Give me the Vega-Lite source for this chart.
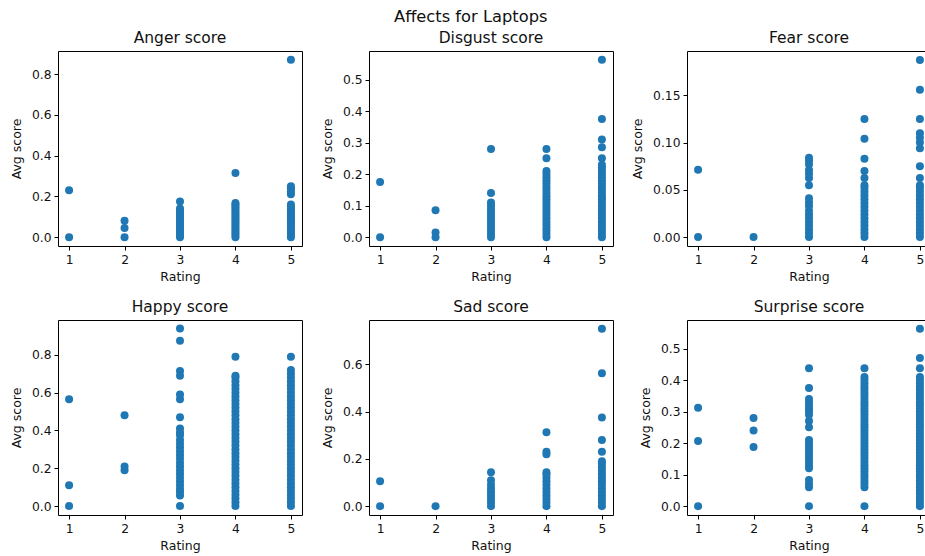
{
  "$schema": "https://vega.github.io/schema/vega-lite/v6.json",
  "padding": {"left": 9, "top": 8, "right": 0, "bottom": 0},
  "title": {"text": "Affects for Laptops", "anchor": "middle", "fontSize": 16.3, "offset": 5, "dx": 0},
  "datasets": {
    "anger": [
      {"rating":1,"score":0},{"rating":1,"score":0.23},
      {"rating":2,"score":0},{"rating":2,"score":0.045},{"rating":2,"score":0.08},
      {"rating":3,"score":0},{"rating":3,"score":0.01},{"rating":3,"score":0.02},{"rating":3,"score":0.03},{"rating":3,"score":0.04},{"rating":3,"score":0.05},{"rating":3,"score":0.06},{"rating":3,"score":0.07},{"rating":3,"score":0.08},{"rating":3,"score":0.09},{"rating":3,"score":0.1},{"rating":3,"score":0.11},{"rating":3,"score":0.12},{"rating":3,"score":0.13},{"rating":3,"score":0.14},{"rating":3,"score":0.175},
      {"rating":4,"score":0},{"rating":4,"score":0.01},{"rating":4,"score":0.02},{"rating":4,"score":0.03},{"rating":4,"score":0.04},{"rating":4,"score":0.05},{"rating":4,"score":0.06},{"rating":4,"score":0.07},{"rating":4,"score":0.08},{"rating":4,"score":0.09},{"rating":4,"score":0.1},{"rating":4,"score":0.11},{"rating":4,"score":0.12},{"rating":4,"score":0.13},{"rating":4,"score":0.14},{"rating":4,"score":0.15},{"rating":4,"score":0.16},{"rating":4,"score":0.167},{"rating":4,"score":0.315},
      {"rating":5,"score":0},{"rating":5,"score":0.01},{"rating":5,"score":0.02},{"rating":5,"score":0.03},{"rating":5,"score":0.04},{"rating":5,"score":0.05},{"rating":5,"score":0.06},{"rating":5,"score":0.07},{"rating":5,"score":0.08},{"rating":5,"score":0.09},{"rating":5,"score":0.1},{"rating":5,"score":0.11},{"rating":5,"score":0.12},{"rating":5,"score":0.13},{"rating":5,"score":0.14},{"rating":5,"score":0.15},{"rating":5,"score":0.16},{"rating":5,"score":0.21},{"rating":5,"score":0.225},{"rating":5,"score":0.24},{"rating":5,"score":0.25},{"rating":5,"score":0.87}
    ],
    "disgust": [
      {"rating":1,"score":0},{"rating":1,"score":0.175},
      {"rating":2,"score":0},{"rating":2,"score":0.015},{"rating":2,"score":0.085},
      {"rating":3,"score":0},{"rating":3,"score":0.01},{"rating":3,"score":0.02},{"rating":3,"score":0.03},{"rating":3,"score":0.04},{"rating":3,"score":0.05},{"rating":3,"score":0.06},{"rating":3,"score":0.07},{"rating":3,"score":0.08},{"rating":3,"score":0.09},{"rating":3,"score":0.1},{"rating":3,"score":0.11},{"rating":3,"score":0.14},{"rating":3,"score":0.28},
      {"rating":4,"score":0},{"rating":4,"score":0.01},{"rating":4,"score":0.02},{"rating":4,"score":0.03},{"rating":4,"score":0.04},{"rating":4,"score":0.05},{"rating":4,"score":0.06},{"rating":4,"score":0.07},{"rating":4,"score":0.08},{"rating":4,"score":0.09},{"rating":4,"score":0.1},{"rating":4,"score":0.11},{"rating":4,"score":0.12},{"rating":4,"score":0.13},{"rating":4,"score":0.14},{"rating":4,"score":0.15},{"rating":4,"score":0.16},{"rating":4,"score":0.17},{"rating":4,"score":0.18},{"rating":4,"score":0.19},{"rating":4,"score":0.2},{"rating":4,"score":0.21},{"rating":4,"score":0.25},{"rating":4,"score":0.28},
      {"rating":5,"score":0},{"rating":5,"score":0.01},{"rating":5,"score":0.02},{"rating":5,"score":0.03},{"rating":5,"score":0.04},{"rating":5,"score":0.05},{"rating":5,"score":0.06},{"rating":5,"score":0.07},{"rating":5,"score":0.08},{"rating":5,"score":0.09},{"rating":5,"score":0.1},{"rating":5,"score":0.11},{"rating":5,"score":0.12},{"rating":5,"score":0.13},{"rating":5,"score":0.14},{"rating":5,"score":0.15},{"rating":5,"score":0.16},{"rating":5,"score":0.17},{"rating":5,"score":0.18},{"rating":5,"score":0.19},{"rating":5,"score":0.2},{"rating":5,"score":0.21},{"rating":5,"score":0.22},{"rating":5,"score":0.23},{"rating":5,"score":0.25},{"rating":5,"score":0.285},{"rating":5,"score":0.31},{"rating":5,"score":0.375},{"rating":5,"score":0.5625}
    ],
    "fear": [
      {"rating":1,"score":0},{"rating":1,"score":0.0714},
      {"rating":2,"score":0},
      {"rating":3,"score":0},{"rating":3,"score":0.004},{"rating":3,"score":0.008},{"rating":3,"score":0.012},{"rating":3,"score":0.016},{"rating":3,"score":0.02},{"rating":3,"score":0.024},{"rating":3,"score":0.028},{"rating":3,"score":0.033},{"rating":3,"score":0.037},{"rating":3,"score":0.041},{"rating":3,"score":0.055},{"rating":3,"score":0.0625},{"rating":3,"score":0.067},{"rating":3,"score":0.071},{"rating":3,"score":0.077},{"rating":3,"score":0.081},{"rating":3,"score":0.084},
      {"rating":4,"score":0},{"rating":4,"score":0.004},{"rating":4,"score":0.008},{"rating":4,"score":0.012},{"rating":4,"score":0.016},{"rating":4,"score":0.02},{"rating":4,"score":0.024},{"rating":4,"score":0.028},{"rating":4,"score":0.032},{"rating":4,"score":0.036},{"rating":4,"score":0.04},{"rating":4,"score":0.044},{"rating":4,"score":0.048},{"rating":4,"score":0.052},{"rating":4,"score":0.055},{"rating":4,"score":0.0625},{"rating":4,"score":0.07},{"rating":4,"score":0.083},{"rating":4,"score":0.104},{"rating":4,"score":0.125},
      {"rating":5,"score":0},{"rating":5,"score":0.004},{"rating":5,"score":0.008},{"rating":5,"score":0.012},{"rating":5,"score":0.016},{"rating":5,"score":0.02},{"rating":5,"score":0.024},{"rating":5,"score":0.028},{"rating":5,"score":0.032},{"rating":5,"score":0.036},{"rating":5,"score":0.04},{"rating":5,"score":0.044},{"rating":5,"score":0.048},{"rating":5,"score":0.052},{"rating":5,"score":0.055},{"rating":5,"score":0.0625},{"rating":5,"score":0.075},{"rating":5,"score":0.094},{"rating":5,"score":0.1},{"rating":5,"score":0.105},{"rating":5,"score":0.11},{"rating":5,"score":0.125},{"rating":5,"score":0.156},{"rating":5,"score":0.1875}
    ],
    "happy": [
      {"rating":1,"score":0},{"rating":1,"score":0.11},{"rating":1,"score":0.565},
      {"rating":2,"score":0.19},{"rating":2,"score":0.21},{"rating":2,"score":0.48},
      {"rating":3,"score":0},{"rating":3,"score":0.056},{"rating":3,"score":0.075},{"rating":3,"score":0.09},{"rating":3,"score":0.11},{"rating":3,"score":0.13},{"rating":3,"score":0.15},{"rating":3,"score":0.17},{"rating":3,"score":0.19},{"rating":3,"score":0.21},{"rating":3,"score":0.23},{"rating":3,"score":0.25},{"rating":3,"score":0.27},{"rating":3,"score":0.29},{"rating":3,"score":0.31},{"rating":3,"score":0.33},{"rating":3,"score":0.35},{"rating":3,"score":0.375},{"rating":3,"score":0.39},{"rating":3,"score":0.41},{"rating":3,"score":0.47},{"rating":3,"score":0.565},{"rating":3,"score":0.59},{"rating":3,"score":0.69},{"rating":3,"score":0.715},{"rating":3,"score":0.875},{"rating":3,"score":0.94},
      {"rating":4,"score":0},{"rating":4,"score":0.02},{"rating":4,"score":0.04},{"rating":4,"score":0.06},{"rating":4,"score":0.08},{"rating":4,"score":0.1},{"rating":4,"score":0.12},{"rating":4,"score":0.14},{"rating":4,"score":0.16},{"rating":4,"score":0.18},{"rating":4,"score":0.2},{"rating":4,"score":0.22},{"rating":4,"score":0.24},{"rating":4,"score":0.26},{"rating":4,"score":0.28},{"rating":4,"score":0.3},{"rating":4,"score":0.32},{"rating":4,"score":0.34},{"rating":4,"score":0.36},{"rating":4,"score":0.38},{"rating":4,"score":0.4},{"rating":4,"score":0.42},{"rating":4,"score":0.44},{"rating":4,"score":0.46},{"rating":4,"score":0.48},{"rating":4,"score":0.5},{"rating":4,"score":0.52},{"rating":4,"score":0.54},{"rating":4,"score":0.56},{"rating":4,"score":0.58},{"rating":4,"score":0.6},{"rating":4,"score":0.62},{"rating":4,"score":0.64},{"rating":4,"score":0.66},{"rating":4,"score":0.68},{"rating":4,"score":0.69},{"rating":4,"score":0.79},
      {"rating":5,"score":0},{"rating":5,"score":0.02},{"rating":5,"score":0.04},{"rating":5,"score":0.06},{"rating":5,"score":0.08},{"rating":5,"score":0.1},{"rating":5,"score":0.12},{"rating":5,"score":0.14},{"rating":5,"score":0.16},{"rating":5,"score":0.18},{"rating":5,"score":0.2},{"rating":5,"score":0.22},{"rating":5,"score":0.24},{"rating":5,"score":0.26},{"rating":5,"score":0.28},{"rating":5,"score":0.3},{"rating":5,"score":0.32},{"rating":5,"score":0.34},{"rating":5,"score":0.36},{"rating":5,"score":0.38},{"rating":5,"score":0.4},{"rating":5,"score":0.42},{"rating":5,"score":0.44},{"rating":5,"score":0.46},{"rating":5,"score":0.48},{"rating":5,"score":0.5},{"rating":5,"score":0.52},{"rating":5,"score":0.54},{"rating":5,"score":0.56},{"rating":5,"score":0.58},{"rating":5,"score":0.6},{"rating":5,"score":0.62},{"rating":5,"score":0.64},{"rating":5,"score":0.66},{"rating":5,"score":0.68},{"rating":5,"score":0.7},{"rating":5,"score":0.72},{"rating":5,"score":0.79}
    ],
    "sad": [
      {"rating":1,"score":0},{"rating":1,"score":0.105},
      {"rating":2,"score":0},
      {"rating":3,"score":0},{"rating":3,"score":0.015},{"rating":3,"score":0.03},{"rating":3,"score":0.045},{"rating":3,"score":0.06},{"rating":3,"score":0.075},{"rating":3,"score":0.09},{"rating":3,"score":0.11},{"rating":3,"score":0.143},
      {"rating":4,"score":0},{"rating":4,"score":0.015},{"rating":4,"score":0.03},{"rating":4,"score":0.045},{"rating":4,"score":0.06},{"rating":4,"score":0.075},{"rating":4,"score":0.09},{"rating":4,"score":0.105},{"rating":4,"score":0.12},{"rating":4,"score":0.135},{"rating":4,"score":0.143},{"rating":4,"score":0.22},{"rating":4,"score":0.23},{"rating":4,"score":0.3125},
      {"rating":5,"score":0},{"rating":5,"score":0.015},{"rating":5,"score":0.03},{"rating":5,"score":0.045},{"rating":5,"score":0.06},{"rating":5,"score":0.075},{"rating":5,"score":0.09},{"rating":5,"score":0.105},{"rating":5,"score":0.12},{"rating":5,"score":0.135},{"rating":5,"score":0.15},{"rating":5,"score":0.165},{"rating":5,"score":0.18},{"rating":5,"score":0.19},{"rating":5,"score":0.23},{"rating":5,"score":0.28},{"rating":5,"score":0.375},{"rating":5,"score":0.5625},{"rating":5,"score":0.75}
    ],
    "surprise": [
      {"rating":1,"score":0},{"rating":1,"score":0.2066},{"rating":1,"score":0.3125},
      {"rating":2,"score":0.1875},{"rating":2,"score":0.24},{"rating":2,"score":0.28},
      {"rating":3,"score":0},{"rating":3,"score":0.06},{"rating":3,"score":0.07},{"rating":3,"score":0.083},{"rating":3,"score":0.12},{"rating":3,"score":0.13},{"rating":3,"score":0.14},{"rating":3,"score":0.15},{"rating":3,"score":0.16},{"rating":3,"score":0.17},{"rating":3,"score":0.18},{"rating":3,"score":0.19},{"rating":3,"score":0.2},{"rating":3,"score":0.21},{"rating":3,"score":0.25},{"rating":3,"score":0.27},{"rating":3,"score":0.29},{"rating":3,"score":0.3},{"rating":3,"score":0.31},{"rating":3,"score":0.32},{"rating":3,"score":0.33},{"rating":3,"score":0.34},{"rating":3,"score":0.375},{"rating":3,"score":0.4375},
      {"rating":4,"score":0},{"rating":4,"score":0.06},{"rating":4,"score":0.07},{"rating":4,"score":0.08},{"rating":4,"score":0.09},{"rating":4,"score":0.1},{"rating":4,"score":0.11},{"rating":4,"score":0.12},{"rating":4,"score":0.13},{"rating":4,"score":0.14},{"rating":4,"score":0.15},{"rating":4,"score":0.16},{"rating":4,"score":0.17},{"rating":4,"score":0.18},{"rating":4,"score":0.19},{"rating":4,"score":0.2},{"rating":4,"score":0.21},{"rating":4,"score":0.22},{"rating":4,"score":0.23},{"rating":4,"score":0.24},{"rating":4,"score":0.25},{"rating":4,"score":0.26},{"rating":4,"score":0.27},{"rating":4,"score":0.28},{"rating":4,"score":0.29},{"rating":4,"score":0.3},{"rating":4,"score":0.31},{"rating":4,"score":0.32},{"rating":4,"score":0.33},{"rating":4,"score":0.34},{"rating":4,"score":0.35},{"rating":4,"score":0.36},{"rating":4,"score":0.37},{"rating":4,"score":0.38},{"rating":4,"score":0.39},{"rating":4,"score":0.4},{"rating":4,"score":0.41},{"rating":4,"score":0.4375},
      {"rating":5,"score":0},{"rating":5,"score":0.01},{"rating":5,"score":0.02},{"rating":5,"score":0.03},{"rating":5,"score":0.04},{"rating":5,"score":0.05},{"rating":5,"score":0.06},{"rating":5,"score":0.07},{"rating":5,"score":0.08},{"rating":5,"score":0.09},{"rating":5,"score":0.1},{"rating":5,"score":0.11},{"rating":5,"score":0.12},{"rating":5,"score":0.13},{"rating":5,"score":0.14},{"rating":5,"score":0.15},{"rating":5,"score":0.16},{"rating":5,"score":0.17},{"rating":5,"score":0.18},{"rating":5,"score":0.19},{"rating":5,"score":0.2},{"rating":5,"score":0.21},{"rating":5,"score":0.22},{"rating":5,"score":0.23},{"rating":5,"score":0.24},{"rating":5,"score":0.25},{"rating":5,"score":0.26},{"rating":5,"score":0.27},{"rating":5,"score":0.28},{"rating":5,"score":0.29},{"rating":5,"score":0.3},{"rating":5,"score":0.31},{"rating":5,"score":0.32},{"rating":5,"score":0.33},{"rating":5,"score":0.34},{"rating":5,"score":0.35},{"rating":5,"score":0.36},{"rating":5,"score":0.37},{"rating":5,"score":0.38},{"rating":5,"score":0.39},{"rating":5,"score":0.4},{"rating":5,"score":0.41},{"rating":5,"score":0.4375},{"rating":5,"score":0.47},{"rating":5,"score":0.5625}
    ]
  },
  "columns": 3,
  "spacing": {"column": 17, "row": 15},
  "concat": [
    {
      "title": "Anger score", "width": 244, "height": 195,
      "data": {"name": "anger"},
      "mark": {"type": "circle", "size": 64, "opacity": 1, "color": "#1f77b4"},
      "encoding": {
        "x": {"field": "rating", "type": "quantitative", "title": "Rating", "scale": {"domain": [0.8, 5.2], "nice": false, "zero": false}, "axis": {"values": [1,2,3,4,5], "format": "d"}},
        "y": {"field": "score", "type": "quantitative", "title": "Avg score", "scale": {"domain": [-0.0435, 0.9135], "nice": false, "zero": false}, "axis": {"values": [0,0.2,0.4,0.6,0.8], "format": ".1f"}}
      }
    },
    {
      "title": "Disgust score", "width": 244, "height": 195,
      "data": {"name": "disgust"},
      "mark": {"type": "circle", "size": 64, "opacity": 1, "color": "#1f77b4"},
      "encoding": {
        "x": {"field": "rating", "type": "quantitative", "title": "Rating", "scale": {"domain": [0.8, 5.2], "nice": false, "zero": false}, "axis": {"values": [1,2,3,4,5], "format": "d"}},
        "y": {"field": "score", "type": "quantitative", "title": "Avg score", "scale": {"domain": [-0.0281, 0.5906], "nice": false, "zero": false}, "axis": {"values": [0,0.1,0.2,0.3,0.4,0.5], "format": ".1f"}}
      }
    },
    {
      "title": "Fear score", "width": 244, "height": 195,
      "data": {"name": "fear"},
      "mark": {"type": "circle", "size": 64, "opacity": 1, "color": "#1f77b4"},
      "encoding": {
        "x": {"field": "rating", "type": "quantitative", "title": "Rating", "scale": {"domain": [0.8, 5.2], "nice": false, "zero": false}, "axis": {"values": [1,2,3,4,5], "format": "d"}},
        "y": {"field": "score", "type": "quantitative", "title": "Avg score", "scale": {"domain": [-0.0094, 0.1969], "nice": false, "zero": false}, "axis": {"values": [0,0.05,0.1,0.15], "format": ".2f"}}
      }
    },
    {
      "title": "Happy score", "width": 244, "height": 195,
      "data": {"name": "happy"},
      "mark": {"type": "circle", "size": 64, "opacity": 1, "color": "#1f77b4"},
      "encoding": {
        "x": {"field": "rating", "type": "quantitative", "title": "Rating", "scale": {"domain": [0.8, 5.2], "nice": false, "zero": false}, "axis": {"values": [1,2,3,4,5], "format": "d"}},
        "y": {"field": "score", "type": "quantitative", "title": "Avg score", "scale": {"domain": [-0.047, 0.9845], "nice": false, "zero": false}, "axis": {"values": [0,0.2,0.4,0.6,0.8], "format": ".1f"}}
      }
    },
    {
      "title": "Sad score", "width": 244, "height": 195,
      "data": {"name": "sad"},
      "mark": {"type": "circle", "size": 64, "opacity": 1, "color": "#1f77b4"},
      "encoding": {
        "x": {"field": "rating", "type": "quantitative", "title": "Rating", "scale": {"domain": [0.8, 5.2], "nice": false, "zero": false}, "axis": {"values": [1,2,3,4,5], "format": "d"}},
        "y": {"field": "score", "type": "quantitative", "title": "Avg score", "scale": {"domain": [-0.0375, 0.7875], "nice": false, "zero": false}, "axis": {"values": [0,0.2,0.4,0.6], "format": ".1f"}}
      }
    },
    {
      "title": "Surprise score", "width": 244, "height": 195,
      "data": {"name": "surprise"},
      "mark": {"type": "circle", "size": 64, "opacity": 1, "color": "#1f77b4"},
      "encoding": {
        "x": {"field": "rating", "type": "quantitative", "title": "Rating", "scale": {"domain": [0.8, 5.2], "nice": false, "zero": false}, "axis": {"values": [1,2,3,4,5], "format": "d"}},
        "y": {"field": "score", "type": "quantitative", "title": "Avg score", "scale": {"domain": [-0.0281, 0.5906], "nice": false, "zero": false}, "axis": {"values": [0,0.1,0.2,0.3,0.4,0.5], "format": ".1f"}}
      }
    }
  ],
  "config": {
    "font": "DejaVu Sans",
    "background": "#ffffff",
    "view": {"stroke": "#000000", "strokeWidth": 1},
    "axis": {"domain": false, "grid": false, "tickColor": "#000000", "tickSize": 4, "tickWidth": 1, "labelFont": "DejaVu Sans", "labelFontSize": 12.3, "labelColor": "#111111", "labelPadding": 3, "titleFont": "DejaVu Sans", "titleFontSize": 12.5, "titleFontWeight": "normal", "titleColor": "#111111", "titlePadding": 5},
    "axisY": {"titlePadding": 8},
    "title": {"font": "DejaVu Sans", "fontSize": 15.5, "fontWeight": "normal", "color": "#111111", "offset": 5}
  }
}
